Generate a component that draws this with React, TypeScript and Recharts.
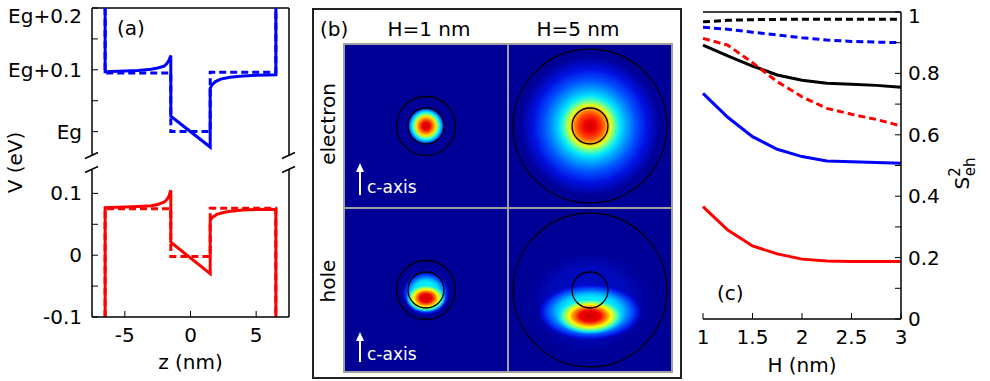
import React from "react"
import {
  LineChart,
  Line,
  XAxis,
  YAxis,
  ReferenceLine,
  ReferenceDot,
  ReferenceArea,
  ScatterChart,
  Scatter,
  Label,
} from "recharts"

const FONT = "DejaVu Sans"
const BG = "#000096"

// ---- panel (a): potential profile, Eg sits at 0.2 on the plot scale ----
const zTicks = [-5, 0, 5]
const vTicks = [-0.1, -0.05, 0, 0.05, 0.1, 0.2, 0.25, 0.3, 0.35, 0.4]
const vTickLabels = ["-0.1", "", "0", "", "0.1", "Eg", "", "Eg+0.1", "", "Eg+0.2"]

const elecSolid = [
  [-6.5, 0.4], [-6.5, 0.297], [-5, 0.298], [-4, 0.299], [-3, 0.301], [-2.5, 0.303],
  [-2, 0.306], [-1.8, 0.31], [-1.65, 0.315], [-1.5, 0.323], [-1.5, 0.225], [1.5, 0.175],
  [1.5, 0.27], [1.65, 0.276], [1.9, 0.281], [2.3, 0.285], [3, 0.288], [4, 0.29],
  [5, 0.291], [6.5, 0.292], [6.5, 0.4],
]
const elecDashed = [
  [-6.5, 0.4], [-6.5, 0.295], [-1.5, 0.295], [-1.5, 0.2], [1.5, 0.2], [1.5, 0.296],
  [6.5, 0.296], [6.5, 0.4],
]
const holeSolid = [
  [-6.5, -0.1], [-6.5, 0.077], [-5, 0.078], [-4, 0.079], [-3, 0.08], [-2.5, 0.082],
  [-2, 0.086], [-1.8, 0.09], [-1.65, 0.095], [-1.5, 0.105], [-1.5, 0.021], [1.5, -0.03],
  [1.5, 0.056], [1.65, 0.061], [2, 0.066], [2.5, 0.069], [3, 0.071], [4, 0.073],
  [5, 0.074], [6.5, 0.074], [6.5, -0.1],
]
const holeDashed = [
  [-6.5, -0.1], [-6.5, 0.075], [-1.5, 0.075], [-1.5, -0.002], [1.5, -0.002], [1.5, 0.076],
  [6.5, 0.076], [6.5, -0.1],
]

// ---- panel (c): overlap vs H ----
const hValues = [1, 1.25, 1.5, 1.75, 2, 2.25, 2.5, 2.75, 3]
const blackDashed = [0.968, 0.973, 0.975, 0.976, 0.976, 0.976, 0.976, 0.976, 0.976]
const blueDashed = [0.95, 0.944, 0.934, 0.925, 0.916, 0.909, 0.904, 0.902, 0.9]
const redDashed = [0.914, 0.892, 0.835, 0.773, 0.724, 0.686, 0.667, 0.65, 0.629]
const blackSolid = [0.892, 0.857, 0.824, 0.795, 0.778, 0.768, 0.765, 0.761, 0.755]
const blueSolid = [0.735, 0.657, 0.594, 0.553, 0.529, 0.515, 0.512, 0.51, 0.507]
const redSolid = [0.366, 0.29, 0.238, 0.212, 0.195, 0.189, 0.187, 0.187, 0.187]
const hTicks = [1, 1.5, 2, 2.5, 3]
const sTicks = [0, 0.1, 0.2, 0.3, 0.4, 0.5, 0.6, 0.7, 0.8, 0.9, 1]
const sTickLabels = ["0", "", "0.2", "", "0.4", "", "0.6", "", "0.8", "", "1"]

// ---- panel (b): densities, cell units (domain -10..10) ----
const columns = ["H=1 nm", "H=5 nm"]
const rows = ["electron", "hole"]
const dotRadius = [2.22, 2.22]
const shellRadius = [3.64, 9.5]
// [cx, cy, rx, ry, gradient]
const electronLayers = [
  [[0, 0, 2.35, 2.35, "eTight"]],
  [[0, 0, 8.6, 8.6, "eWide"]],
]
const holeLayers = [
  [[0, 0, 3.3, 3.3, "halo"], [0, -0.4, 2.9, 2.7, "hGlow"], [0, -1.0, 2.45, 1.75, "hHot"]],
  [[0, -1.5, 8.6, 7.2, "halo"], [0, -2.7, 6.4, 3.5, "hGlow"], [0, -3.2, 4.2, 2.25, "hHot"]],
]

const gradients: Record<string, (string | number)[][]> = {
  eTight: [[0, "#d00000"], [0.2, "#f00000"], [0.36, "#ff7000"], [0.5, "#ffe000"], [0.62, "#80ff80"],
    [0.73, "#00f0ff"], [0.84, "#0080ff"], [0.93, "#0010f0"], [1, BG]],
  eWide: [[0, "#d40000"], [0.08, "#f00000"], [0.17, "#ff4000"], [0.24, "#ffa000"], [0.3, "#e0ff20"],
    [0.36, "#60ffa0"], [0.43, "#00e8ff"], [0.53, "#00a0ff"], [0.66, "#0050ff"], [0.82, "#0010e0"], [1, BG]],
  hHot: [[0, "#d00000"], [0.3, "#f00000"], [0.48, "#ff8000"], [0.62, "#ffff00"], [0.78, "#60ffa0"],
    [0.92, "#00e0ff", 0.6], [1, "#00c0ff", 0]],
  hGlow: [[0, "#00ffff"], [0.5, "#00f0ff"], [0.63, "#00c0ff"], [0.78, "#0060ff"], [0.92, "#0010e0"],
    [1, "#0000c8", 0]],
  halo: [[0, "#0010d0"], [0.6, "#0008b8"], [1, BG, 0]],
}

const textStyle = { fill: "#000", fontSize: 20, fontFamily: FONT }

const pts = (arr: number[][]) => arr.map(([z, v]) => ({ z, v }))
const labelOf = (ticks: number[], labels: string[]) => (v: number) => {
  const i = ticks.findIndex((t) => Math.abs(t - v) < 1e-9)
  return i >= 0 ? labels[i] : ""
}

// tick text kept inside the page at the top edge
const makeTick = (ticks: number[], labels: string[], anchor: "start" | "end") => (p: any) => (
  <text
    x={p.x}
    y={Math.max(p.y, 16)}
    textAnchor={anchor}
    dominantBaseline="central"
    fontFamily={FONT}
    fontSize={20}
    fill="#000"
  >
    {labelOf(ticks, labels)(p.payload.value)}
  </text>
)

const BreakMark = (p: any) => (
  <g stroke="#000" strokeWidth={1.5}>
    <line x1={p.cx - 7} y1={p.cy - 4} x2={p.cx + 6} y2={p.cy - 10} />
    <line x1={p.cx - 7} y1={p.cy + 10} x2={p.cx + 6} y2={p.cy + 4} />
  </g>
)

function PanelA() {
  const series = [
    { d: elecDashed, c: "#0000ff", dash: "7 4" },
    { d: elecSolid, c: "#0000ff", dash: undefined },
    { d: holeDashed, c: "#ff0000", dash: "7 4" },
    { d: holeSolid, c: "#ff0000", dash: undefined },
  ]
  return (
    <LineChart width={300} height={381} margin={{ top: 8, right: 11, bottom: 0, left: 0 }}>
      <XAxis
        type="number"
        dataKey="z"
        domain={[-7.5, 7.5]}
        ticks={zTicks}
        height={64}
        stroke="#000"
        tickSize={-6}
        tickMargin={17}
        tick={textStyle}
        axisLine={{ stroke: "#000", strokeWidth: 1.5 }}
        tickLine={{ stroke: "#000" }}
      >
        <Label value="z (nm)" position="insideBottom" offset={12} style={textStyle} />
      </XAxis>
      <YAxis
        type="number"
        domain={[-0.1, 0.4]}
        ticks={vTicks}
        interval={0}
        width={92}
        axisLine={false}
        tickSize={-6}
        tickMargin={16}
        tick={makeTick(vTicks, vTickLabels, "end")}
        tickLine={{ stroke: "#000" }}
      >
        <Label
          value="V (eV)"
          angle={-90}
          position="insideLeft"
          offset={15}
          style={{ ...textStyle, textAnchor: "middle" }}
        />
      </YAxis>
      <YAxis
        yAxisId="r"
        orientation="right"
        type="number"
        domain={[-0.1, 0.4]}
        ticks={vTicks}
        interval={0}
        width={0}
        axisLine={false}
        tickSize={-6}
        tick={false}
        tickLine={{ stroke: "#000" }}
      />
      <ReferenceLine segment={[{ x: -7.5, y: -0.1 }, { x: -7.5, y: 0.1387 }]} stroke="#000" strokeWidth={1.5} ifOverflow="visible" />
      <ReferenceLine segment={[{ x: -7.5, y: 0.1613 }, { x: -7.5, y: 0.4 }]} stroke="#000" strokeWidth={1.5} ifOverflow="visible" />
      <ReferenceLine segment={[{ x: 7.5, y: -0.1 }, { x: 7.5, y: 0.1387 }]} stroke="#000" strokeWidth={1.5} ifOverflow="visible" />
      <ReferenceLine segment={[{ x: 7.5, y: 0.1613 }, { x: 7.5, y: 0.4 }]} stroke="#000" strokeWidth={1.5} ifOverflow="visible" />
      <ReferenceLine y={0.4} stroke="#000" strokeWidth={1.5} ifOverflow="visible" />
      <ReferenceDot x={-7.5} y={0.15} r={0} shape={BreakMark} ifOverflow="visible" />
      <ReferenceDot x={7.5} y={0.15} r={0} shape={BreakMark} ifOverflow="visible" />
      {series.map((s, i) => (
        <Line
          key={i}
          data={pts(s.d)}
          dataKey="v"
          type="linear"
          stroke={s.c}
          strokeWidth={3}
          strokeDasharray={s.dash}
          dot={false}
          activeDot={false}
          isAnimationActive={false}
        />
      ))}
    </LineChart>
  )
}

function PanelC() {
  const table = hValues.map((h, i) => ({
    h,
    bd: blackDashed[i],
    ud: blueDashed[i],
    rd: redDashed[i],
    bs: blackSolid[i],
    us: blueSolid[i],
    rs: redSolid[i],
  }))
  const lines = [
    { k: "bd", c: "#000", dash: "7 4" },
    { k: "ud", c: "#0000ff", dash: "7 4" },
    { k: "rs", c: "#ff0000", dash: undefined },
    { k: "us", c: "#0000ff", dash: undefined },
    { k: "bs", c: "#000", dash: undefined },
    { k: "rd", c: "#ff0000", dash: "7 4" },
  ]
  const SLabel = (p: any) => {
    const vb = p.viewBox
    const x = vb.x + 68
    const y = vb.y + vb.height / 2 + 8
    return (
      <text transform={`rotate(-90 ${x} ${y})`} x={x} y={y} textAnchor="middle" fontFamily={FONT} fontSize={20} fill="#000">
        S<tspan dy={-9} fontSize={15}>2</tspan>
        <tspan dx={-9} dy={15} fontSize={15}>eh</tspan>
      </text>
    )
  }
  return (
    <LineChart width={300} height={381} data={table} margin={{ top: 12, right: 0, bottom: 0, left: 13 }}>
      <XAxis
        type="number"
        dataKey="h"
        domain={[1, 3]}
        ticks={hTicks}
        interval={0}
        height={62}
        tickSize={-6}
        tickMargin={17}
        tick={textStyle}
        axisLine={{ stroke: "#000", strokeWidth: 1.5 }}
        tickLine={{ stroke: "#000" }}
      >
        <Label value="H (nm)" position="insideBottom" offset={9} style={textStyle} />
      </XAxis>
      <YAxis
        yAxisId="l"
        type="number"
        domain={[0, 1]}
        ticks={sTicks}
        interval={0}
        width={0}
        tickSize={-6}
        tick={false}
        axisLine={{ stroke: "#000", strokeWidth: 1.5 }}
        tickLine={{ stroke: "#000" }}
      />
      <YAxis
        yAxisId="r"
        orientation="right"
        type="number"
        domain={[0, 1]}
        ticks={sTicks}
        interval={0}
        width={89}
        tickSize={-6}
        tickMargin={13}
        tick={makeTick(sTicks, sTickLabels, "start")}
        axisLine={{ stroke: "#000", strokeWidth: 1.5 }}
        tickLine={{ stroke: "#000" }}
      >
        <Label content={SLabel} />
      </YAxis>
      <ReferenceLine yAxisId="r" y={1} stroke="#000" strokeWidth={1.5} ifOverflow="visible" />
      {lines.map((l) => (
        <Line
          key={l.k}
          yAxisId="r"
          dataKey={l.k}
          type="linear"
          stroke={l.c}
          strokeWidth={3}
          strokeDasharray={l.dash}
          dot={false}
          activeDot={false}
          isAnimationActive={false}
        />
      ))}
    </LineChart>
  )
}

const ellipse = (fill: string, stroke = "none", sw = 0) => (p: any) => (
  <ellipse
    cx={p.x + p.width / 2}
    cy={p.y + p.height / 2}
    rx={Math.abs(p.width) / 2}
    ry={Math.abs(p.height) / 2}
    fill={fill}
    stroke={stroke}
    strokeWidth={sw}
  />
)

const NoMark = () => <g />

function HeatCell({ row, col }: { row: number; col: number }) {
  const layers = (row === 0 ? electronLayers : holeLayers)[col]
  const rings = [dotRadius[col], shellRadius[col]]
  const centre = [{ x: 0, y: 0 }]
  return (
    <ScatterChart width={162} height={162} margin={{ top: 0, right: 0, bottom: 0, left: 0 }}>
      <XAxis type="number" dataKey="x" domain={[-10, 10]} hide />
      <YAxis type="number" dataKey="y" domain={[-10, 10]} hide />
      <Scatter data={centre} shape={NoMark} isAnimationActive={false} />
      {layers.map(([cx, cy, rx, ry, g]: any, i: number) => (
        <ReferenceArea
          key={i}
          x1={cx - rx}
          x2={cx + rx}
          y1={cy - ry}
          y2={cy + ry}
          ifOverflow="visible"
          shape={ellipse(`url(#g-${g})`)}
        />
      ))}
      {rings.map((r, i) => (
        <ReferenceArea
          key={`r${i}`}
          x1={-r}
          x2={r}
          y1={-r}
          y2={r}
          ifOverflow="visible"
          shape={ellipse("none", "#000", 1.3)}
        />
      ))}
    </ScatterChart>
  )
}

function Arrow({ x, y0, y1, label }: { x: number; y0: number; y1: number; label: string }) {
  return (
    <g>
      <line x1={x} y1={y0} x2={x} y2={y1 + 6} stroke="#fff" strokeWidth={2} />
      <polygon points={`${x - 4},${y1 + 9} ${x + 4},${y1 + 9} ${x},${y1}`} fill="#fff" />
      <text x={x + 7} y={y0 - 2} fill="#fff" fontSize={17} fontFamily={FONT}>
        {label}
      </text>
    </g>
  )
}

export default function App() {
  return (
    <div style={{ position: "absolute", left: 0, top: 0, width: 990, height: 381, background: "#fff", overflow: "hidden" }}>
      <svg width={0} height={0} style={{ position: "absolute" }}>
        <defs>
          {Object.entries(gradients).map(([id, stops]) => (
            <radialGradient key={id} id={`g-${id}`} cx="50%" cy="50%" r="50%">
              {stops.map(([o, c, a], i) => (
                <stop key={i} offset={o as number} stopColor={c as string} stopOpacity={a === undefined ? 1 : (a as number)} />
              ))}
            </radialGradient>
          ))}
        </defs>
      </svg>

      <div style={{ position: "absolute", left: 0, top: 0 }}>
        <PanelA />
      </div>
      <div style={{ position: "absolute", left: 690, top: 0 }}>
        <PanelC />
      </div>

      <div style={{ position: "absolute", left: 312, top: 8, width: 370, height: 371, border: "2px solid #222", boxSizing: "border-box" }} />
      <div style={{ position: "absolute", left: 343, top: 43, width: 330, height: 330, background: "#a0a0a0" }}>
        {rows.map((_, r) =>
          columns.map((_, c) => (
            <div key={`${r}${c}`} style={{ position: "absolute", left: 2 + c * 164, top: 2 + r * 164, width: 162, height: 162, background: BG }}>
              <HeatCell row={r} col={c} />
            </div>
          ))
        )}
      </div>

      <svg width={990} height={381} style={{ position: "absolute", left: 0, top: 0, pointerEvents: "none" }}>
        <g fontFamily={FONT} fontSize={20} fill="#000">
          <text x={117} y={35}>(a)</text>
          <text x={717} y={300}>(c)</text>
          <text x={320} y={36}>(b)</text>
          <text x={429} y={36} textAnchor="middle">{columns[0]}</text>
          <text x={578} y={36} textAnchor="middle">{columns[1]}</text>
          <text x={328} y={124} textAnchor="middle" dominantBaseline="central" transform="rotate(-90 328 124)">{rows[0]}</text>
          <text x={328} y={281} textAnchor="middle" dominantBaseline="central" transform="rotate(-90 328 281)">{rows[1]}</text>
        </g>
        <Arrow x={360} y0={195} y1={163} label="c-axis" />
        <Arrow x={360} y0={362} y1={332} label="c-axis" />
      </svg>
    </div>
  )
}
